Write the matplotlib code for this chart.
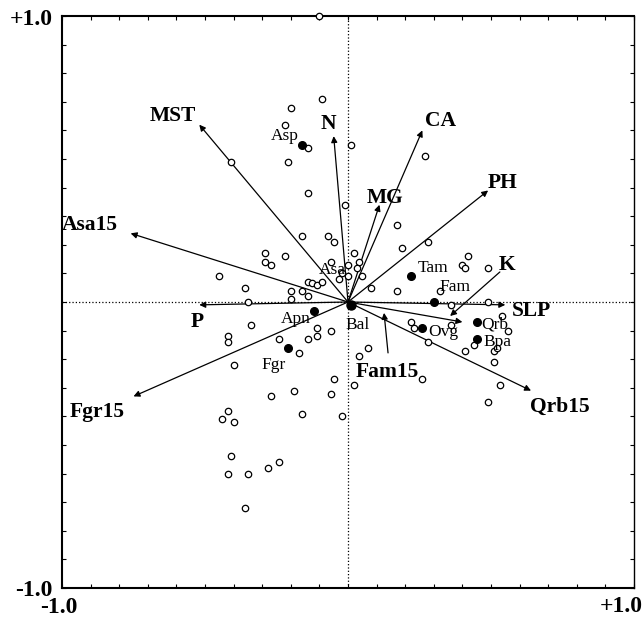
import numpy as np
import matplotlib
matplotlib.use("Agg")
import matplotlib.pyplot as plt

plt.rcParams['font.family'] = ['Liberation Serif', 'DejaVu Serif']

# sample scores (open circles)
site_x = [-0.10, -0.09, -0.20, -0.22, -0.14, -0.41, -0.21, 0.01, 0.27, -0.14,
          -0.01, 0.17, -0.16, -0.07, -0.05, 0.19, 0.28, 0.02, -0.29, -0.29,
          -0.27, -0.22, -0.06, 0.00, 0.04, 0.03, 0.05, -0.02, 0.00, -0.03,
          0.08, 0.17, -0.14, -0.126, -0.11, -0.09, -0.45, -0.36, -0.20, -0.16,
          -0.14, -0.35, -0.20, 0.42, 0.40, 0.41, 0.49, 0.32, 0.36, 0.49,
          -0.34, -0.11, -0.11, -0.14, -0.24, -0.06, -0.42, -0.42, -0.17, -0.40,
          -0.05, -0.19, -0.06, -0.27, -0.42, -0.44, -0.40, -0.16, -0.02, -0.41,
          -0.42, -0.35, -0.28, -0.24, -0.36, 0.02, 0.04, 0.07, 0.22, 0.23,
          0.28, 0.36, 0.54, 0.56, 0.44, 0.41, 0.51, 0.52, 0.51, 0.53,
          0.49, 0.26]
site_y = [1.00, 0.71, 0.68, 0.62, 0.54, 0.49, 0.49, 0.55, 0.51, 0.38,
          0.34, 0.27, 0.23, 0.23, 0.21, 0.19, 0.21, 0.17, 0.17, 0.14,
          0.13, 0.16, 0.14, 0.13, 0.14, 0.12, 0.09, 0.10, 0.09, 0.08,
          0.05, 0.04, 0.07, 0.066, 0.06, 0.07, 0.09, 0.05, 0.04, 0.04,
          0.02, 0.00, 0.01, 0.16, 0.13, 0.12, 0.12, 0.04, -0.01, 0.00,
          -0.08, -0.09, -0.12, -0.13, -0.13, -0.10, -0.12, -0.14, -0.18, -0.22,
          -0.27, -0.31, -0.32, -0.33, -0.38, -0.41, -0.42, -0.39, -0.40, -0.54,
          -0.60, -0.60, -0.58, -0.56, -0.72, -0.29, -0.19, -0.16, -0.07, -0.09,
          -0.14, -0.08, -0.05, -0.10, -0.15, -0.17, -0.17, -0.16, -0.21, -0.29,
          -0.35, -0.27]

# species scores (filled circles)
species = ["Asp", "Tam", "Fam", "Apn", "Fgr", "Ovg", "Qrb", "Bpa"]
species_x = [-0.16, 0.22, 0.30, -0.12, -0.21, 0.26, 0.45, 0.45]
species_y = [0.55, 0.09, 0.00, -0.03, -0.16, -0.09, -0.07, -0.13]
bal_x, bal_y = 0.01, -0.01

# species label positions
sp_labels = ["Asp", "Asa", "Tam", "Fam", "Apn", "Bal", "Fgr", "Ovg", "Qrb", "Bpa"]
sp_lab_x = [-0.22, -0.056, 0.297, 0.374, -0.182, 0.035, -0.259, 0.332, 0.514, 0.524]
sp_lab_y = [0.580, 0.112, 0.119, 0.052, -0.059, -0.080, -0.220, -0.105, -0.080, -0.140]

# environmental vectors (from origin)
env = ["MST", "N", "CA", "MG", "PH", "Asa15", "P", "Fgr15", "SLP", "Qrb15", ""]
env_x = [-0.52, -0.05, 0.26, 0.11, 0.49, -0.76, -0.52, -0.75, 0.55, 0.64, 0.40]
env_y = [0.62, 0.58, 0.60, 0.34, 0.39, 0.24, -0.01, -0.33, -0.01, -0.31, -0.07]
env_lab_x = [-0.612, -0.070, 0.322, 0.129, 0.542, -0.902, -0.528, -0.878, 0.643, 0.741, 0]
env_lab_y = [0.650, 0.622, 0.633, 0.364, 0.416, 0.269, -0.070, -0.385, -0.031, -0.367, 0]

# vectors with a leader from the label
lead = ["K", "Fam15"]
lead_from_x = [0.531, 0.140]
lead_from_y = [0.105, -0.178]
lead_to_x = [0.357, 0.126]
lead_to_y = [-0.049, -0.038]
lead_lab_x = [0.556, 0.136]
lead_lab_y = [0.129, -0.245]

fig = plt.figure(figsize=(6.43, 6.2), dpi=100)
ax = fig.add_axes([62 / 643, 1 - 588 / 620, 572 / 643, 572 / 620])
ax.set_xlim(-1, 1)
ax.set_ylim(-1, 1)

ax.axhline(0, color='black', ls=':', lw=0.9)
ax.axvline(0, color='black', ls=':', lw=0.9)

arrow = dict(arrowstyle='-|>', color='black', lw=0.9, mutation_scale=9,
             shrinkA=0, shrinkB=0)

for name, x, y, lx, ly in zip(env, env_x, env_y, env_lab_x, env_lab_y):
    ax.annotate("", xy=(x, y), xytext=(0, 0), arrowprops=arrow)
    if name:
        ax.text(lx, ly, name, fontsize=15.5, fontweight='bold',
                ha='center', va='center')

for name, fx, fy, tx, ty, lx, ly in zip(lead, lead_from_x, lead_from_y,
                                         lead_to_x, lead_to_y, lead_lab_x, lead_lab_y):
    ax.annotate("", xy=(tx, ty), xytext=(fx, fy), arrowprops=arrow)
    ax.text(lx, ly, name, fontsize=15.5, fontweight='bold',
            ha='center', va='center')

ax.plot(site_x, site_y, 'o', ms=4.6, mfc='white', mec='black', mew=0.9,
        clip_on=False, zorder=3)
ax.plot(species_x, species_y, 'o', ms=5.5, color='black', zorder=4)
ax.plot([bal_x], [bal_y], 'o', ms=6.5, color='black', zorder=4)

for name, x, y in zip(sp_labels, sp_lab_x, sp_lab_y):
    ax.text(x, y, name, fontsize=12.5, ha='center', va='center', zorder=5)

ticks = np.round(np.arange(-1, 1.01, 0.1), 1)
ax.set_xticks(ticks)
ax.set_yticks(ticks)
ax.set_xticklabels([])
ax.set_yticklabels([])
ax.tick_params(direction='in', length=3, width=0.8,
               top=True, right=True, bottom=True, left=True)
for side in ['left', 'bottom', 'top']:
    ax.spines[side].set_linewidth(1.5)
ax.spines['right'].set_linewidth(1.0)

tick_font = dict(fontsize=17, fontweight='bold', va='center')
ax.text(-0.016, 0.994, "+1.0", transform=ax.transAxes, ha='right', **tick_font)
ax.text(-0.016, -0.004, "-1.0", transform=ax.transAxes, ha='right', **tick_font)
ax.text(-0.006, -0.034, "-1.0", transform=ax.transAxes, ha='center', **tick_font)
ax.text(0.978, -0.032, "+1.0", transform=ax.transAxes, ha='center', **tick_font)

fig.savefig("out.png", dpi=100)
